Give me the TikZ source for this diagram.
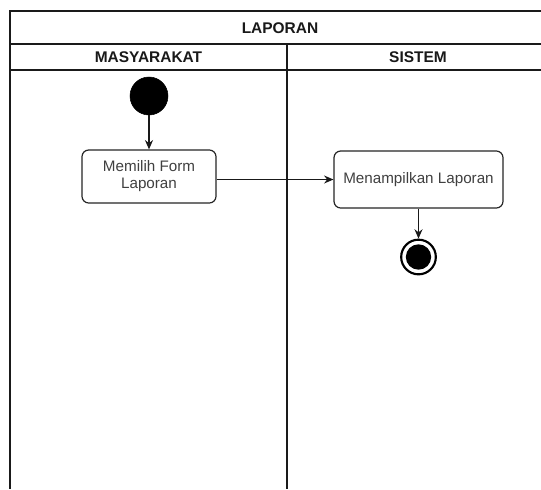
\documentclass[tikz,border=0pt]{standalone}
\usepackage{fontspec}
\setmainfont{Liberation Sans}
\usetikzlibrary{arrows.meta}
\definecolor{lanegray}{HTML}{1A1A1A}
\definecolor{textgray}{HTML}{404040}
\tikzset{
  frameline/.style={draw=lanegray, line width=1.1pt},
  heading/.style={font=\fontsize{11.6}{13}\selectfont\bfseries, text=black!90, inner sep=0pt},
  action/.style={draw=black!85, line width=0.9pt, rounded corners=5pt, fill=white,
    align=center, text=textgray, font=\fontsize{11.4}{12.75}\selectfont, inner sep=2pt},
  initial/.style={circle, fill=black, draw=black, minimum size=28.5pt, inner sep=0pt},
  finalouter/.style={circle, draw=black, line width=1.6pt, fill=white, minimum size=26pt, inner sep=0pt},
  finalinner/.style={circle, fill=black, minimum size=19pt, inner sep=0pt},
  flow/.style={draw=black!90, line width=0.8pt, -{Stealth[length=7pt,width=6pt]}}
}
\begin{document}
\begin{tikzpicture}[x=0.75pt, y=-0.75pt]
  \useasboundingbox (0,0) rectangle (541,489);
  \fill[white] (0,0) rectangle (541,489);

  % pool frame and swimlane separators
  \draw[frameline] (541,11) -- (10,11) -- (10,489);
  \draw[frameline] (10,44) -- (541,44);
  \draw[frameline] (10,70) -- (541,70);
  \draw[frameline] (287,44) -- (287,489);

  % headings
  \node[heading] (pool) at (280,28) {LAPORAN};
  \node[heading] (laneA) at (148.5,57.5) {MASYARAKAT};
  \node[heading] (laneB) at (418,57.5) {SISTEM};

  % activity nodes
  \node[initial] (start) at (149,96) {};
  \node[action, minimum width=100.5pt, minimum height=39.75pt] (pilih) at (149,176.5) {Memilih Form\\Laporan};
  \node[action, minimum width=126.75pt, minimum height=42.75pt] (tampil) at (418.5,179.5) {Menampilkan Laporan};
  \node[finalouter] (end) at (418.5,257) {};
  \node[finalinner] (endcore) at (end.center) {};

  % control flow
  \draw[flow] (start) -- (pilih);
  \draw[flow] (pilih.east |- tampil.west) -- (tampil.west);
  \draw[flow] (tampil) -- (end);
\end{tikzpicture}
\end{document}
